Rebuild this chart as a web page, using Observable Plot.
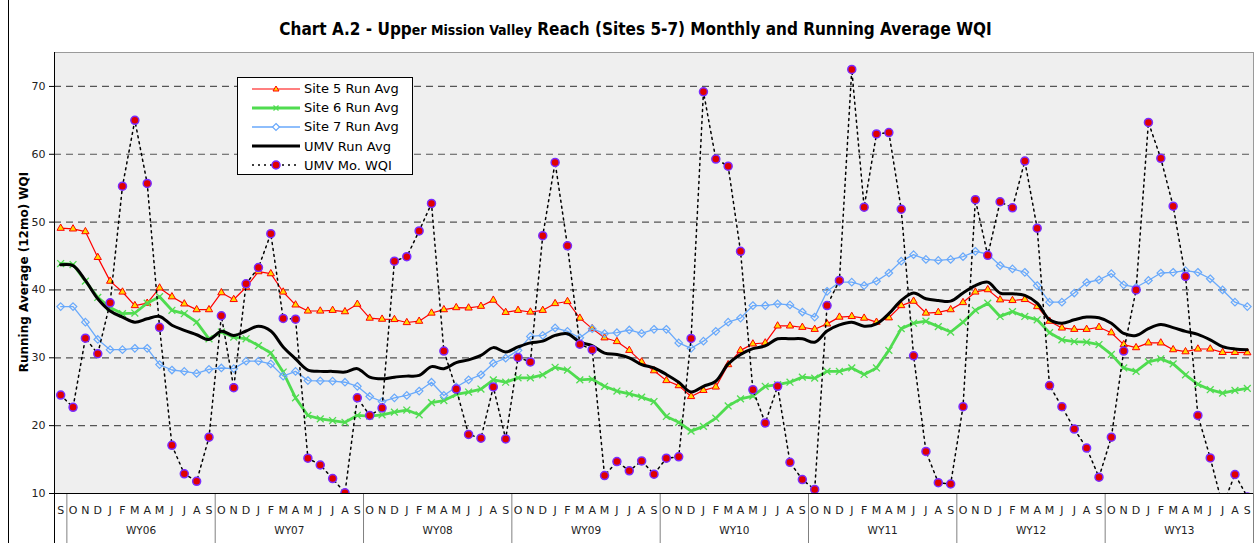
<!DOCTYPE html>
<html><head><meta charset="utf-8">
<script src="https://cdn.jsdelivr.net/npm/d3@7"></script>
<script src="https://cdn.jsdelivr.net/npm/@observablehq/plot@0.6"></script>
<style>
body{margin:0;background:#fff;font-family:"DejaVu Sans",Verdana,sans-serif;}
#wrap{position:relative;width:1259px;height:543px;overflow:hidden;background:#fff;}
#edge{position:absolute;left:8px;top:0;width:0;height:543px;border-left:1px solid #000;}
#title{height:42px;box-sizing:border-box;padding-top:20px;text-align:center;font-family:"DejaVu Sans Condensed","DejaVu Sans",sans-serif;font-weight:bold;font-size:17px;color:#000;line-height:19px;padding-left:12px;white-space:nowrap;}
#title .sm{font-size:14px;}
#ylab{position:absolute;left:24px;top:272px;transform:translate(-50%,-50%) rotate(-90deg);white-space:nowrap;font-weight:bold;font-size:12px;color:#000;}
#legend{position:absolute;left:237px;top:77px;width:176px;height:98px;background:#fff;border:1px solid #000;box-sizing:border-box;}
#legend .row{position:absolute;left:0;height:19px;display:flex;align-items:center;font-size:13px;color:#000;}
#legend svg{margin-left:14px;margin-right:4px;}
</style></head>
<body>
<div id="wrap">
<div id="title">Chart A.2 - Upp<span class="sm">er Mission Valley</span> Reach (Sites 5-7) Monthly and Running Average WQI</div>
<div id="chart"></div>
<div id="ylab">Running Average (12mo) WQI</div>
<div id="legend"></div>
<div id="edge"></div>
</div>
<script>
// ---- data (Sep 2005 .. Sep 2013, monthly) ----
const firstMonth = "S";
const monthCycle = ["O","N","D","J","F","M","A","M","J","J","A","S"];
const waterYears = ["WY06","WY07","WY08","WY09","WY10","WY11","WY12","WY13"];
const yTicks = [10,20,30,40,50,60,70];

const site5 = [49.1,49.0,48.6,44.8,41.3,39.7,37.7,38.05,40.3,39.0,37.95,37.1,37.1,
 39.6,38.6,40.4,42.7,42.4,39.7,37.8,36.9,36.9,37.0,36.8,37.9,
 35.85,35.7,35.65,35.2,35.4,36.6,37.1,37.4,37.35,37.6,38.5,36.7,
 37.0,36.75,37.0,38.0,38.3,35.85,34.3,32.95,32.4,31.1,29.4,28.1,
 26.65,25.9,24.3,25.2,25.7,29.0,31.1,32.05,32.2,34.7,34.7,34.5,
 34.2,35.0,36.0,36.1,35.85,35.25,35.9,37.7,38.35,36.6,36.7,37.1,
 38.15,39.7,40.05,38.55,38.45,38.6,37.55,35.4,34.4,34.2,34.2,34.5,
 33.7,31.95,31.5,32.2,32.2,31.2,30.9,31.3,31.3,30.8,30.8,30.75];

const site6 = [43.9,43.75,41.3,38.9,37.4,36.5,36.6,38.05,39.0,37.0,36.5,35.25,32.8,
 33.8,33.05,32.8,31.8,30.7,27.9,24.1,21.5,21.0,20.75,20.5,21.5,
 21.4,21.6,22.0,22.3,21.6,23.4,23.7,24.6,24.95,25.4,26.75,26.4,
 27.05,27.05,27.5,28.6,28.2,26.75,26.85,25.8,25.1,24.7,24.2,23.55,
 21.35,20.5,19.2,19.9,21.1,22.9,23.95,24.35,25.8,26.05,26.4,27.15,
 27.0,28.0,28.0,28.5,27.55,28.5,31.1,34.3,35.1,35.4,34.6,33.8,
 35.25,37.0,38.05,36.1,36.8,36.1,35.6,33.7,32.65,32.4,32.3,31.95,
 30.5,28.5,28.0,29.4,29.85,29.1,27.5,26.1,25.3,24.8,25.2,25.5];

const site7 = [37.55,37.55,35.25,32.7,31.2,31.2,31.4,31.4,29.0,28.2,28.0,27.7,28.3,
 28.5,28.4,29.5,29.5,29.1,27.3,28.0,26.65,26.6,26.55,26.4,25.8,
 24.3,23.55,24.1,24.45,25.1,26.4,24.45,25.7,26.75,27.5,29.2,29.95,
 31.1,33.15,33.3,34.4,33.9,32.95,34.3,33.55,33.7,34.1,33.6,34.2,
 34.2,32.2,31.4,32.45,33.9,35.25,35.85,37.7,37.7,37.95,37.8,36.75,
 36.0,39.8,41.15,41.15,40.65,41.3,42.5,44.25,45.2,44.5,44.35,44.5,
 44.9,45.7,45.3,43.6,43.1,42.6,40.65,38.2,38.2,39.55,41.1,41.5,
 42.4,40.75,40.4,41.4,42.5,42.6,42.85,42.6,41.65,40.0,38.2,37.55];

const umvRunAvg = [43.7,43.6,41.4,38.7,36.9,36.0,35.25,35.75,36.1,34.8,34.05,33.4,32.7,
 33.9,33.3,33.95,34.65,33.95,31.6,29.85,28.2,28.0,28.0,27.9,28.4,
 27.15,26.9,27.15,27.3,27.4,28.7,28.4,29.3,29.7,30.35,31.5,30.85,
 31.6,32.2,32.45,33.3,33.55,32.3,31.8,30.7,30.5,30.0,29.0,28.5,
 27.55,26.4,24.95,25.8,26.55,29.1,30.5,31.35,31.75,32.8,32.8,32.8,
 32.3,33.95,34.85,35.25,34.65,35.0,36.5,38.45,39.55,38.7,38.45,38.35,
 39.55,40.65,41.15,39.55,39.45,39.2,38.05,35.6,35.1,35.6,36.0,35.9,
 35.1,33.6,33.3,34.3,34.9,34.45,33.9,33.45,32.65,31.65,31.3,31.2];

const umvMonthly = [24.5,22.7,32.9,30.6,38.1,55.3,65.0,55.7,34.5,17.1,12.9,11.8,18.3,
 36.2,25.6,40.9,43.3,48.3,35.8,35.7,15.2,14.2,12.2,10.1,24.1,
 21.5,22.6,44.25,44.9,48.7,52.75,31.0,25.4,18.7,18.15,25.7,18.05,
 30.05,29.4,48.0,58.8,46.5,32.0,31.2,12.65,14.7,13.35,14.8,12.85,
 15.2,15.4,32.85,69.2,59.3,58.25,45.7,25.3,20.4,25.8,14.6,12.05,
 10.6,37.7,41.4,72.5,52.2,63.0,63.2,51.9,30.3,16.2,11.6,11.4,
 22.8,53.3,45.1,53.0,52.1,59.0,49.1,25.9,22.8,19.5,16.7,12.4,
 18.3,31.0,40.0,64.7,59.4,52.35,42.0,21.5,15.25,8.2,12.8,9.5];

const seriesNames = ["Site 5 Run Avg","Site 6 Run Avg","Site 7 Run Avg","UMV Run Avg","UMV Mo. WQI"];

// ---- build table ----
const monthLabels = [firstMonth, ...waterYears.flatMap(() => monthCycle)];
const N = monthLabels.length;
const rows = d3.range(N).map(i => ({i, m: monthLabels[i], s5: site5[i], s6: site6[i], s7: site7[i], umv: umvRunAvg[i], mo: umvMonthly[i]}));
const wyRows = waterYears.map((w, k) => ({w, c: 1 + 12*k + 5.5}));
const bounds = [-0.5, 0.5, ...waterYears.map((w, k) => 12*(k+1) + 0.5)];

const H = 501, mT = 10, mB = 50;
const yMin = 10, yMax = 75;
const yBottom = yMin - mB * (yMax - yMin) / (H - mT - mB);

const C5 = "#ff0000", C6 = "#50dc50", C7 = "#69a9fb", CDOT = "#e00000", CDOTS = "#7a2cff";
const font = '"DejaVu Sans", Verdana, sans-serif';

const chart = Plot.plot({
  width: 1259, height: H, marginLeft: 54, marginRight: 6, marginTop: mT, marginBottom: mB,
  x: {domain: [-0.5, N - 0.5], axis: null},
  y: {domain: [yMin, yMax], axis: null},
  style: {background: "transparent", fontFamily: font, fontSize: "11px", color: "#222", overflow: "visible"},
  marks: [
    Plot.frame({fill: "#efefef", stroke: "#9a9a9a"}),
    Plot.ruleY(yTicks.filter(t => t > yMin), {stroke: "#555", strokeWidth: 1.2, strokeDasharray: "7,5"}),
    Plot.axisY(yTicks, {tickSize: 5, tickPadding: 4, fontSize: 11, stroke: "#000", color: "#222"}),
    Plot.ruleX(bounds.slice(1), {y1: yMin, y2: yBottom, stroke: "#808080"}),
    Plot.ruleX([N - 0.5], {y1: yMin, y2: yBottom, stroke: "#808080"}),
    Plot.ruleX([-0.5], {y1: yMax, y2: yBottom, stroke: "#000"}),
    Plot.ruleY([yMin], {x1: -0.5, x2: N - 0.5, stroke: "#000"}),
    Plot.text(rows, {x: "i", y: () => yMin, text: "m", dy: 17, fontSize: 11, fill: "#222"}),
    Plot.text(wyRows, {x: "c", y: () => yMin, text: "w", dy: 37, fontSize: 10.5, fill: "#222"}),
    // Site 5
    Plot.line(rows, {x: "i", y: "s5", stroke: C5, strokeWidth: 1.2, clip: true}),
    Plot.dot(rows, {x: "i", y: "s5", symbol: "triangle", r: 2.7, fill: "#ffd800", stroke: C5, strokeWidth: 1, clip: true}),
    // Site 6
    Plot.line(rows, {x: "i", y: "s6", stroke: C6, strokeWidth: 2.8, clip: true}),
    Plot.dot(rows, {x: "i", y: "s6", symbol: "times", r: 3.2, stroke: C6, strokeWidth: 1.3, clip: true}),
    // Site 7
    Plot.line(rows, {x: "i", y: "s7", stroke: C7, strokeWidth: 1.3, clip: true}),
    Plot.dot(rows, {x: "i", y: "s7", symbol: "diamond2", r: 3.4, stroke: C7, strokeWidth: 1.2, fill: "none", clip: true}),
    // UMV Run Avg
    Plot.line(rows, {x: "i", y: "umv", stroke: "#000", strokeWidth: 3, curve: "catmull-rom", clip: true}),
    // UMV monthly
    Plot.line(rows, {x: "i", y: "mo", stroke: "#000", strokeWidth: 1.5, strokeDasharray: "2,4", clip: true}),
    Plot.dot(rows, {x: "i", y: "mo", r: 4, fill: CDOT, stroke: CDOTS, strokeWidth: 1.5, clip: true})
  ]
});
document.getElementById("chart").appendChild(chart);

// ---- legend ----
const swatches = [
  `<line x1="0" y1="7" x2="48" y2="7" stroke="${C5}" stroke-width="1.2"/><path d="M24,4 L27,9 L21,9 Z" fill="#ffd800" stroke="${C5}"/>`,
  `<line x1="0" y1="7" x2="48" y2="7" stroke="${C6}" stroke-width="2.8"/><path d="M21.5,4.5 L26.5,9.5 M26.5,4.5 L21.5,9.5" stroke="${C6}" stroke-width="1.3"/>`,
  `<line x1="0" y1="7" x2="48" y2="7" stroke="${C7}" stroke-width="1.3"/><path d="M24,3.5 L27.5,7 L24,10.5 L20.5,7 Z" fill="#fff" stroke="${C7}" stroke-width="1.2"/>`,
  `<line x1="0" y1="7" x2="48" y2="7" stroke="#000" stroke-width="3"/>`,
  `<line x1="0" y1="7" x2="48" y2="7" stroke="#000" stroke-width="1.5" stroke-dasharray="2,4"/><circle cx="24" cy="7" r="4" fill="${CDOT}" stroke="${CDOTS}" stroke-width="1.5"/>`
];
const leg = document.getElementById("legend");
seriesNames.forEach((name, k) => {
  const d = document.createElement("div");
  d.className = "row";
  d.style.top = (1 + 19.2*k) + "px";
  d.innerHTML = `<svg width="48" height="14">${swatches[k]}</svg><span>${name}</span>`;
  leg.appendChild(d);
});
</script>
</body></html>
